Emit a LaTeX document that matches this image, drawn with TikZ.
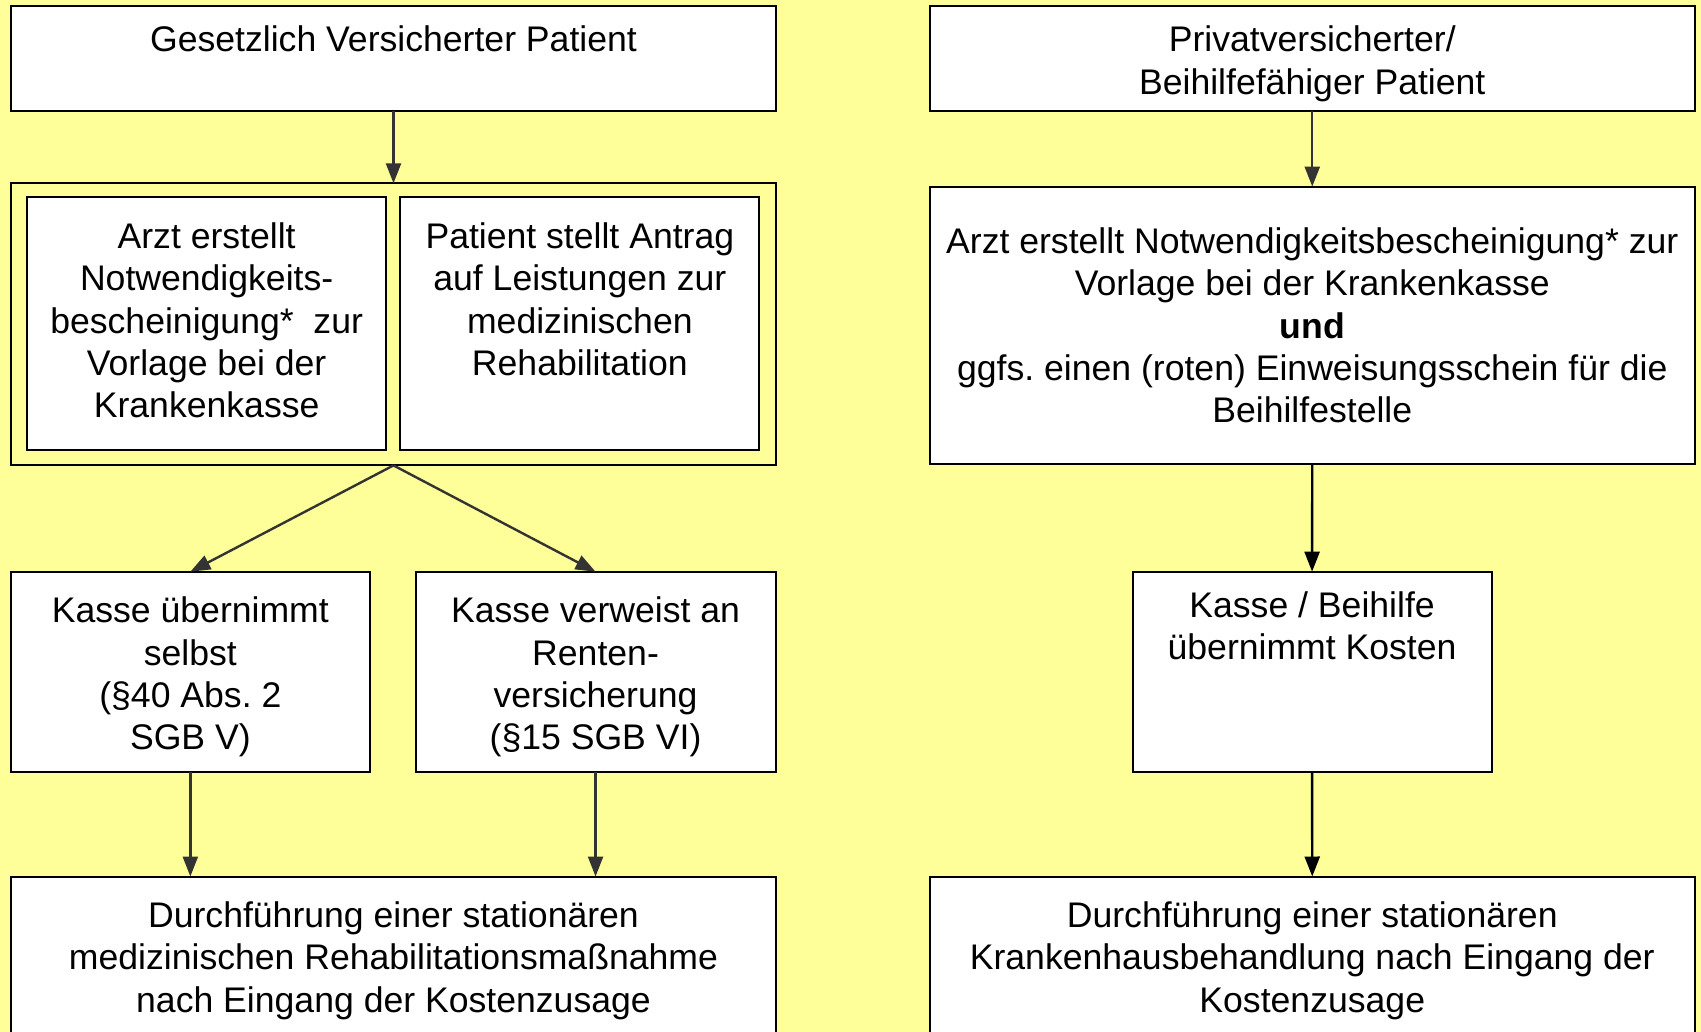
\documentclass[tikz,border=0pt]{standalone}
\usepackage{fontspec}
\setmainfont{Liberation Sans}
\usetikzlibrary{arrows.meta}
\definecolor{bgyellow}{RGB}{255,255,153}
\definecolor{arrgray}{RGB}{51,51,51}
\begin{document}
\frenchspacing
\begin{tikzpicture}[x=0.5pt,y=-0.5pt,
 box/.style={draw=black, line width=1pt, fill=white, inner sep=0pt, outer sep=0pt, align=center, font=\fontsize{17.8}{21.2}\selectfont},
 frame/.style={draw=black, line width=1pt, inner sep=0pt, outer sep=0pt},
 txt/.style={inner sep=0pt, align=center, anchor=north, font=\fontsize{17.8}{21.2}\selectfont},
 conn/.style={draw=arrgray, line width=1.2pt, -{Triangle[length=10pt,width=7.5pt]}},
 connb/.style={draw=black, line width=1.2pt, -{Triangle[length=10pt,width=7.5pt]}},
]
\useasboundingbox (0,0) rectangle (1701,1032);
\clip (0,0) rectangle (1701,1032);
\fill[bgyellow] (0,0) rectangle (1701,1032);

% left column
\node[box, minimum width=382.5pt, minimum height=52.1pt] (A) at (393.5,58.6) {};
\node[txt] (Atxt) at ([yshift=-9.6pt]A.north) {Gesetzlich Versicherter Patient};

\node[frame, minimum width=382.5pt, minimum height=141.05pt] (C) at (393.5,324.35) {};
\node[box, minimum width=179.55pt, minimum height=126.4pt] (IL) at (206.65,323.8) {};
\node[txt] (ILtxt) at ([yshift=-12.4pt]IL.north)
  {Arzt erstellt\\Notwendigkeits-\\bescheinigung*~~zur\\Vorlage bei der\\Krankenkasse};
\node[box, minimum width=179.55pt, minimum height=126.4pt] (IR) at (579.85,323.8) {};
\node[txt] (IRtxt) at ([yshift=-12.4pt]IR.north)
  {Patient stellt Antrag\\auf Leistungen zur\\medizinischen\\Rehabilitation};

\node[box, minimum width=179.55pt, minimum height=100.35pt] (K1) at (190.35,672.05) {};
\node[txt] (K1txt) at ([yshift=-12.4pt]K1.north)
  {Kasse übernimmt\\selbst\\(§40 Abs. 2\\SGB V)};
\node[box, minimum width=180.05pt, minimum height=100.35pt] (K2) at (595.55,672.05) {};
\node[txt] (K2txt) at ([yshift=-12.4pt]K2.north)
  {Kasse verweist an\\Renten-\\versicherung\\(§15 SGB VI)};

\node[box, minimum width=382.5pt, minimum height=81.75pt] (D1) at (393.5,958.25) {};
\node[txt] (D1txt) at ([yshift=-12.4pt]D1.north)
  {Durchführung einer stationären\\medizinischen Rehabilitationsmaßnahme\\nach Eingang der Kostenzusage};

% right column
\node[box, minimum width=382.25pt, minimum height=52.1pt] (P) at (1312.25,58.6) {};
\node[txt] (Ptxt) at ([yshift=-9.6pt]P.north) {Privatversicherter/\\Beihilfefähiger Patient};
\node[box, minimum width=382.25pt, minimum height=138.85pt] (B) at (1312.25,325.45)
  {Arzt erstellt Notwendigkeitsbescheinigung* zur\\Vorlage bei der Krankenkasse\\\textbf{und}\\ggfs. einen (roten) Einweisungsschein für die\\Beihilfestelle};
\node[box, minimum width=179.55pt, minimum height=100.35pt] (KB) at (1312.05,672.05) {};
\node[txt] (KBtxt) at ([yshift=-9.6pt]KB.north) {Kasse / Beihilfe\\übernimmt Kosten};
\node[box, minimum width=382.25pt, minimum height=81.75pt] (D2) at (1312.25,958.25) {};
\node[txt] (D2txt) at ([yshift=-12.4pt]D2.north)
  {Durchführung einer stationären\\Krankenhausbehandlung nach Eingang der\\Kostenzusage};

% connectors
\draw[conn] (A.south) -- (C.north);
\draw[conn] (C.south) -- (K1.north);
\draw[conn] (C.south) -- (K2.north);
\draw[conn] (K1.south) -- (K1.south |- D1.north);
\draw[conn] (K2.south) -- (K2.south |- D1.north);
\draw[conn] (P.south) -- (B.north);
\draw[connb] (B.south) -- (KB.north);
\draw[connb] (KB.south) -- (D2.north);
\end{tikzpicture}
\end{document}
